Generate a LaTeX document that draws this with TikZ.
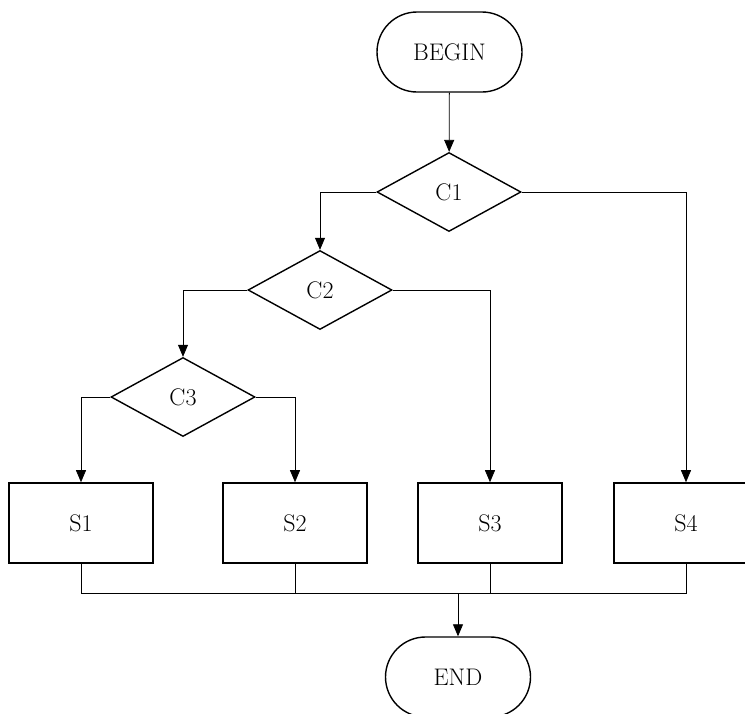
\documentclass[tikz,border=0pt]{standalone}
\usepackage{fontspec}
\usetikzlibrary{shapes.geometric,shapes.misc,arrows.meta}
\begin{document}
\begin{tikzpicture}[x=1pt,y=-1pt,
  every node/.style={font=\fontsize{24}{28}\selectfont},
  terminal/.style={rounded rectangle,draw,line width=1.4pt,minimum width=145pt,minimum height=80pt,inner sep=0pt},
  decision/.style={diamond,draw,line width=1.4pt,minimum width=144pt,minimum height=79pt,inner sep=0pt,aspect=1.82},
  process/.style={rectangle,draw,line width=1.6pt,minimum width=144pt,minimum height=80pt,inner sep=0pt},
  link/.style={line width=0.8pt},
  arr/.style={link,-{Triangle[length=12pt,width=10pt]}}]
\useasboundingbox (0,0) rectangle (745,713);

% start and end terminals
\node[terminal] (begin) at (449.5,52) {BEGIN};
\node[terminal] (end) at (458,677) {END};

% decisions
\node[decision] (c1) at (449,192) {C1};
\node[decision] (c2) at (320,290) {C2};
\node[decision] (c3) at (183,397) {C3};

% statements
\node[process] (s1) at (81,523) {S1};
\node[process] (s2) at (295,523) {S2};
\node[process] (s3) at (490,523) {S3};
\node[process] (s4) at (686,523) {S4};

% junction where all branches meet
\coordinate (m) at (458,593);

\draw[arr] (begin) -- (c1);
\draw[arr] (c1.west) -| (c2.north);
\draw[arr] (c1.east) -| (s4.north);
\draw[arr] (c2.west) -| (c3.north);
\draw[arr] (c2.east) -| (s3.north);
\draw[arr] (c3.west) -| (s1.north);
\draw[arr] (c3.east) -| (s2.north);

\draw[link] (s1.south) |- (m);
\draw[link] (s4.south) |- (m);
\draw[link] (s2.south) -- (s2.south |- m);
\draw[link] (s3.south) -- (s3.south |- m);
\draw[arr] (m) -- (end.north);
\end{tikzpicture}
\end{document}
